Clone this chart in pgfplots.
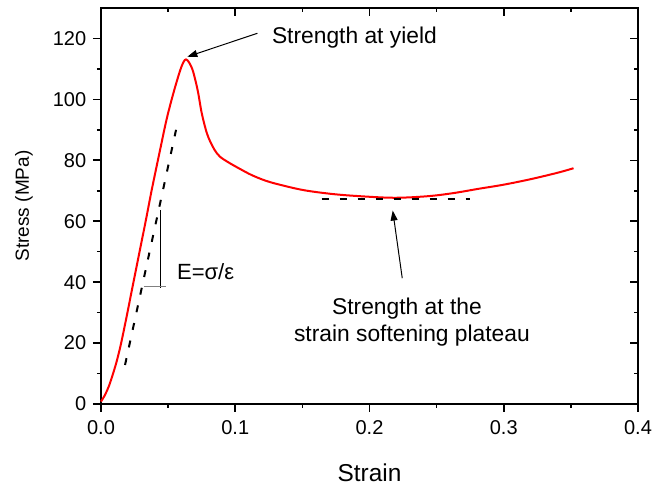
\documentclass[border=0pt]{standalone}
\usepackage{fontspec}
\setmainfont{Liberation Sans}
\usepackage{pgfplots}
\pgfplotsset{compat=1.18}
\usetikzlibrary{arrows.meta}
\begin{document}
\begin{tikzpicture}
\useasboundingbox (-50.5pt,-41pt) rectangle (276.5pt,202pt);
\begin{axis}[
  scale only axis, width=268.5pt, height=198pt,
  xmin=0, xmax=0.4, ymin=0, ymax=130,
  xtick={0,0.1,0.2,0.3,0.4}, ytick={0,20,40,60,80,100,120},
  minor x tick num=1, minor y tick num=1,
  scaled x ticks=false,
  tick align=outside, xtick pos=left, ytick pos=left,
  major tick length=4pt, minor tick length=2pt,
  axis line style={line width=0.8pt},
  tick style={line width=0.8pt, black},
  /pgf/number format/assume math mode=true,
  xticklabel style={/pgf/number format/fixed, /pgf/number format/fixed zerofill, /pgf/number format/precision=1, inner sep=0pt, yshift=-4pt},
  yticklabel style={inner sep=0pt, xshift=-3.2pt},
  tick label style={font=\fontsize{10}{12}\selectfont},
  xlabel={Strain}, ylabel={Stress (MPa)},
  every axis x label/.style={at={(axis description cs:0.5,0)}, anchor=base, yshift=-39pt, inner sep=0pt, font=\fontsize{12.2}{14}\selectfont},
  every axis y label/.style={at={(axis description cs:-0.1434,0.5)}, anchor=center, rotate=90, inner sep=0pt, font=\fontsize{9.5}{11}\selectfont},
  clip=false
]
\addplot[red, line width=1pt, smooth, tension=0.55] coordinates {
(0,0.8) (0.003,3) (0.006,6) (0.009,10) (0.012,14.5) (0.015,20) (0.019,28.5)
(0.024,39.6) (0.029,50.6) (0.0335,60.5) (0.0378,70.3) (0.044,83.4) (0.0489,93.5)
(0.0539,102) (0.0588,109.3) (0.0615,112.3) (0.0633,113.1) (0.0655,112.2)
(0.0685,109.3) (0.072,103) (0.0748,96) (0.0775,91) (0.080,87.5) (0.0845,83.5)
(0.0886,81.2) (0.095,79.3) (0.103,77.3) (0.112,75.2) (0.122,73.4) (0.133,72)
(0.151,70.2) (0.171,69) (0.19,68.3) (0.218,67.7) (0.243,68.2) (0.262,69.2)
(0.282,70.7) (0.3,72) (0.32,73.8) (0.34,75.9) (0.352,77.4)
};
\addplot[black, line width=1pt, dash pattern=on 3.5pt off 5.5pt] coordinates {(0.0179,12.8) (0.0559,90)};
\addplot[black, line width=1pt, dash pattern=on 3.5pt off 5.5pt] coordinates {(0.1644,67.3) (0.2749,67.3)};
\addplot[black, line width=0.5pt] coordinates {(0.0445,38.1) (0.0445,63.7)};
\addplot[gray, line width=0.7pt] coordinates {(0.032,38.5) (0.0484,38.5)};
\draw[-{Triangle[length=5pt,width=3.5pt]}, line width=0.5pt] (axis cs:0.1165,121.7) -- (axis cs:0.0643,114.0);
\draw[-{Triangle[length=5pt,width=3.5pt]}, line width=0.5pt] (axis cs:0.2244,41.3) -- (axis cs:0.2173,63.5);
\node[anchor=base west, inner sep=0pt, font=\fontsize{11.4}{13}\selectfont] at (axis cs:0.1271,118.4) {Strength at yield};
\node[anchor=base, inner sep=0pt, font=\fontsize{11.4}{13}\selectfont] at (axis cs:0.2279,29.5) {Strength at the};
\node[anchor=base, inner sep=0pt, font=\fontsize{11.4}{13}\selectfont] at (axis cs:0.2316,20.45) {strain softening plateau};
\node[anchor=base west, inner sep=0pt, font=\fontsize{11}{13}\selectfont] at (axis cs:0.0564,40.9) {E=σ/ε};
\end{axis}
\begin{axis}[
  scale only axis, width=268.5pt, height=198pt,
  xmin=0, xmax=0.4, ymin=0, ymax=130,
  xtick={0,0.1,0.2,0.3,0.4}, ytick={0,20,40,60,80,100,120},
  minor x tick num=1, minor y tick num=1,
  tick align=inside, xtick pos=right, ytick pos=right,
  major tick length=4pt, minor tick length=2pt,
  axis line style={draw=none},
  tick style={line width=0.8pt, black},
  xticklabels={}, yticklabels={}
]
\end{axis}
\end{tikzpicture}
\end{document}
